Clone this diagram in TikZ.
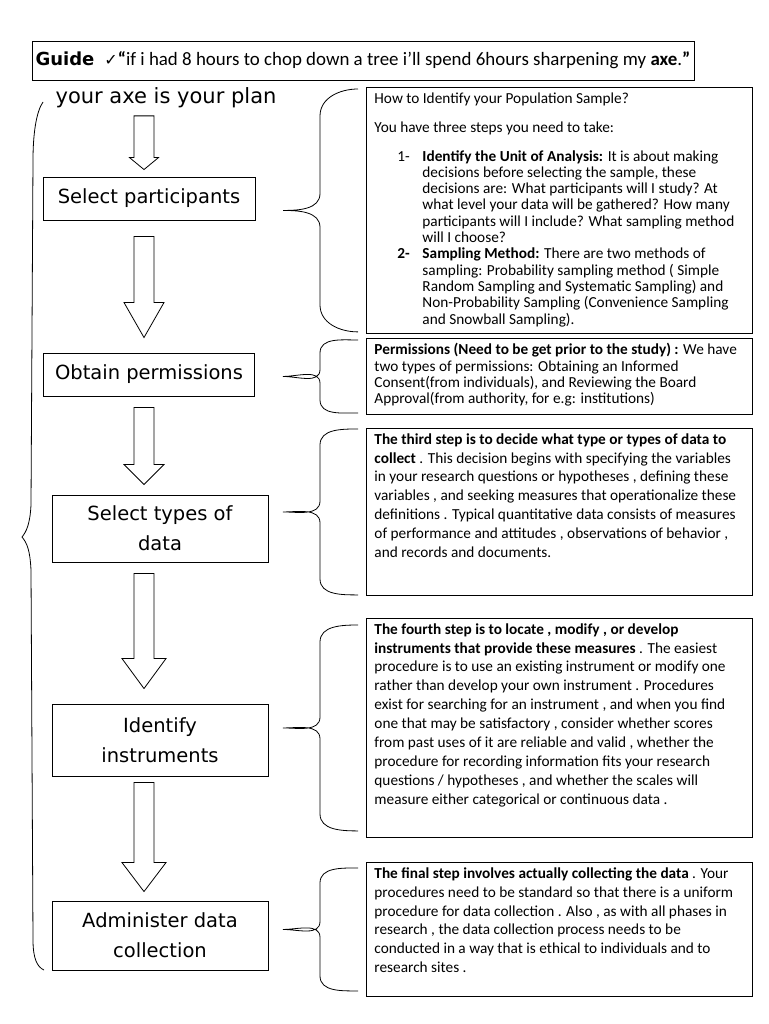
\documentclass[tikz,border=0pt]{standalone}
\usepackage{fontspec}
\setmainfont{Carlito}
\newfontfamily\comic{DejaVu Sans}
\usetikzlibrary{calc}

% hollow block arrow: from node, to node, top gap, tip gap, head length, head half width
\newcommand{\arrowx}{144pt}
\newcommand{\blockarrow}[6]{%
  \draw[hollow] let \p1=($(#1.south)+(0,-#3)$), \p2=($(#2.north)+(0,#4)$) in
    (\arrowx-10pt,\y1) -- (\arrowx+10pt,\y1) -- (\arrowx+10pt,\y2+#5)
    -- (\arrowx+#6,\y2+#5) -- (\arrowx,\y2) -- (\arrowx-#6,\y2+#5)
    -- (\arrowx-10pt,\y2+#5) -- cycle;}
% curly brace on the left of a note: note, inset, end curve, tip curve
\newcommand{\notebrace}[4]{%
  \draw[brace line] let \p1=(#1.north west), \p2=(#1.south west), \p3=(#1.west) in
    (\x1-8pt,\y1-#2) to[out=180,in=90] (\x1-46pt,\y1-#2-#3)
    -- (\x1-46pt,\y3+#4) to[out=-90,in=0] (\x1-83pt,\y3)
    to[out=0,in=90] (\x1-46pt,\y3-#4)
    -- (\x1-46pt,\y2+#2+#3) to[out=-90,in=180] (\x1-8pt,\y2+#2);}

\begin{document}
\begin{tikzpicture}[x=1pt, y=-1pt,
    stepbox/.style={draw, line width=0.9pt, align=center, inner sep=0pt,
      font=\comic\fontsize{19.5}{30}\selectfont},
    note/.style={draw, line width=0.9pt, anchor=north west, inner xsep=8pt,
      inner ysep=5pt, font=\fontsize{15.3}{16.3}\selectfont},
    loose/.style={font=\fontsize{15.3}{18.9}\selectfont},
    hollow/.style={draw, fill=white, line width=0.8pt},
    brace line/.style={line width=0.8pt}
  ]
  \fill[white] (0,0) rectangle (768,1024);
  \useasboundingbox (0,0) rectangle (768,1024);

  \node[draw, line width=0.9pt, minimum width=662, minimum height=39, inner sep=0pt,
    font=\fontsize{18.9}{22}\selectfont] (guide) at (363,60.5)
    {{\comic\bfseries\fontsize{18}{20}\selectfont Guide}\hspace{10pt}{\comic\fontsize{16}{18}\selectfont ✓}\textbf{“}if i had 8 hours to chop down a tree i’ll spend 6hours sharpening my \textbf{axe}.\textbf{”}};

  \node[inner sep=0pt, font=\comic\fontsize{21}{24}\selectfont] (plan) at (166,98) {your axe is your plan};

  \node[stepbox, minimum width=212, minimum height=43] (participants) at (149,198.5) {Select participants};
  \node[stepbox, minimum width=211, minimum height=43] (permissions) at (149,374.5) {Obtain permissions};
  \node[stepbox, minimum width=216, minimum height=67] (datatypes) at (160,528.5) {Select types of\\data};
  \node[stepbox, minimum width=216, minimum height=72] (instruments) at (160,740) {Identify\\instruments};
  \node[stepbox, minimum width=216, minimum height=69] (collection) at (160,935.5) {Administer data\\collection};

  \blockarrow{plan}{participants}{7.5pt}{7pt}{12pt}{14.5pt}
  \blockarrow{participants}{permissions}{16pt}{15pt}{35pt}{20pt}
  \blockarrow{permissions}{datatypes}{11pt}{10pt}{20pt}{20pt}
  \blockarrow{datatypes}{instruments}{11pt}{15pt}{30pt}{22pt}
  \blockarrow{instruments}{collection}{6pt}{9pt}{29pt}{22pt}

  % big brace down the left side
  \draw[brace line] (43,102) .. controls (36,112) and (33,135) .. (33,160) -- (31,505)
    .. controls (30,525) and (26,532) .. (22,537) .. controls (27,543) and (30,550) .. (31,570)
    -- (33,940) .. controls (33,958) and (37,967) .. (44,970);

  \node[note] (sample) at (366,87) {\parbox[c][236pt][t]{370pt}{%
    How to Identify your Population Sample?\\[12.7pt]
    You have three steps you need to take:\\[12.7pt]
    \hspace*{23pt}\makebox[25pt][l]{1-}\textbf{Identify the Unit of Analysis:} It is about making\\
    \hspace*{48pt}decisions before selecting the sample, these\\
    \hspace*{48pt}decisions are: What participants will I study? At\\
    \hspace*{48pt}what level your data will be gathered? How many\\
    \hspace*{48pt}participants will I include? What sampling method\\
    \hspace*{48pt}will I choose?\\
    \hspace*{23pt}\makebox[25pt][l]{\textbf{2-}}\textbf{Sampling Method:} There are two methods of\\
    \hspace*{48pt}sampling: Probability sampling method ( Simple\\
    \hspace*{48pt}Random Sampling and Systematic Sampling) and\\
    \hspace*{48pt}Non-Probability Sampling (Convenience Sampling\\
    \hspace*{48pt}and Snowball Sampling).}};

  \node[note] (permit) at (366,338) {\parbox[c][66pt][t]{370pt}{%
    \textbf{Permissions (Need to be get prior to the study) :} We have\\
    two types of permissions: Obtaining an Informed\\
    Consent(from individuals), and Reviewing the Board\\
    Approval(from authority, for e.g: institutions)}};

  \node[note, loose] (typesnote) at (366,428) {\parbox[c][157pt][t]{370pt}{%
    \textbf{The third step is to decide what type or types of data to}\\
    \textbf{collect} . This decision begins with specifying the variables\\
    in your research questions or hypotheses , defining these\\
    variables , and seeking measures that operationalize these\\
    definitions . Typical quantitative data consists of measures\\
    of performance and attitudes , observations of behavior ,\\
    and records and documents.}};

  \node[note, loose] (instrnote) at (366,618) {\parbox[c][209pt][t]{370pt}{%
    \textbf{The fourth step is to locate , modify , or develop}\\
    \textbf{instruments that provide these measures} . The easiest\\
    procedure is to use an existing instrument or modify one\\
    rather than develop your own instrument . Procedures\\
    exist for searching for an instrument , and when you find\\
    one that may be satisfactory , consider whether scores\\
    from past uses of it are reliable and valid , whether the\\
    procedure for recording information fits your research\\
    questions / hypotheses , and whether the scales will\\
    measure either categorical or continuous data .}};

  \node[note, loose] (collectnote) at (366,862) {\parbox[c][124pt][t]{370pt}{%
    \textbf{The final step involves actually collecting the data} . Your\\
    procedures need to be standard so that there is a uniform\\
    procedure for data collection . Also , as with all phases in\\
    research , the data collection process needs to be\\
    conducted in a way that is ethical to individuals and to\\
    research sites .}};

  \notebrace{sample}{2pt}{27pt}{17pt}
  \notebrace{permit}{2pt}{13pt}{7pt}
  \notebrace{typesnote}{1pt}{16pt}{11pt}
  \notebrace{instrnote}{7pt}{17pt}{11pt}
  \notebrace{collectnote}{6pt}{15pt}{8pt}
\end{tikzpicture}
\end{document}
